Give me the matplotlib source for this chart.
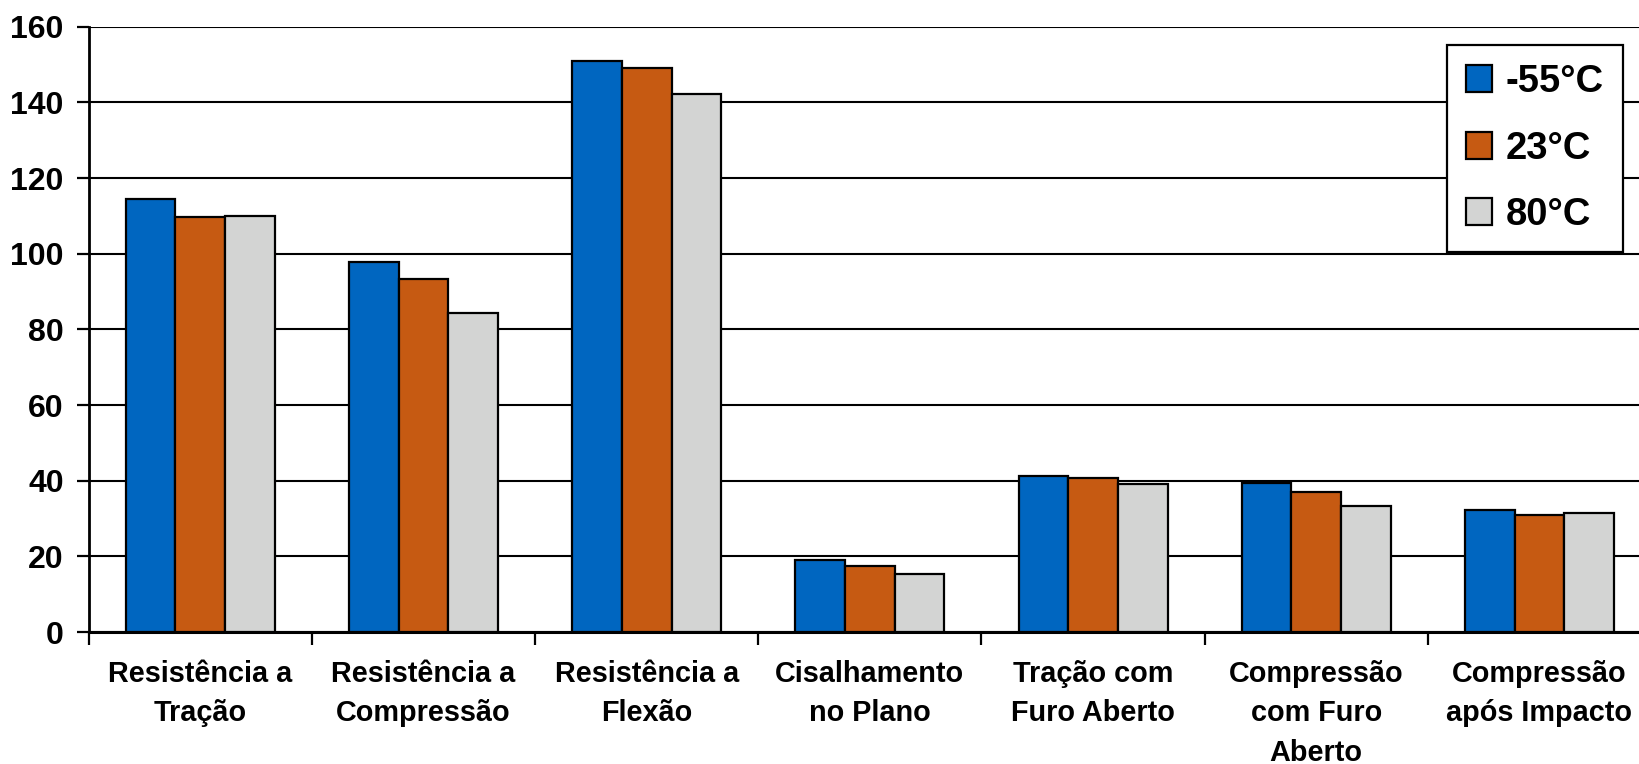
import numpy as np
import matplotlib.pyplot as plt

plt.rcParams['font.family'] = ['Liberation Sans', 'DejaVu Sans']
plt.rcParams['font.weight'] = 'bold'

categories = ['Resistência a\nTração', 'Resistência a\nCompressão', 'Resistência a\nFlexão',
              'Cisalhamento\nno Plano', 'Tração com\nFuro Aberto', 'Compressão\ncom Furo\nAberto',
              'Compressão\napós Impacto']
series_names = ['-55°C', '23°C', '80°C']
vals_m55 = [114.5, 97.9, 151.0, 19.1, 41.2, 39.3, 32.2]
vals_23 = [109.8, 93.2, 149.2, 17.5, 40.7, 36.9, 30.9]
vals_80 = [109.9, 84.4, 142.2, 15.3, 39.0, 33.3, 31.5]
yticks = [0, 20, 40, 60, 80, 100, 120, 140, 160]

colors = ['#0066C0', '#C65A12', '#D3D4D3']

fig = plt.figure(figsize=(16.4, 7.64), dpi=100)
ax = fig.add_axes([88.7 / 1640, 132 / 764, (1651 - 88.7) / 1640, (632 - 26.7) / 764])

x = np.arange(len(categories))
w = 0.2226
for i, (vals, name) in enumerate(zip([vals_m55, vals_23, vals_80], series_names)):
    ax.bar(x + (i - 1) * w, vals, width=w, color=colors[i], edgecolor='black',
           linewidth=1.6, label=name, zorder=3)

ax.set_xlim(-0.5, len(categories) - 0.5)
ax.set_ylim(0, 160)
ax.set_yticks(yticks)
ax.set_yticklabels([str(t) for t in yticks], fontsize=23, fontweight='bold')
ax.yaxis.grid(True, color='black', linewidth=1.5, zorder=0)
ax.set_axisbelow(True)

# category boundaries get the tick marks, labels sit in between
ax.set_xticks(np.arange(len(categories) + 1) - 0.5)
ax.set_xticklabels([])
ax.set_xticks(x, minor=True)
ax.set_xticklabels(categories, minor=True, fontsize=20.8, fontweight='bold', linespacing=1.52)
ax.tick_params(axis='x', which='major', length=9, width=1.6, direction='out')
ax.tick_params(axis='x', which='minor', length=0, pad=20)
ax.tick_params(axis='y', length=9, width=1.6, pad=9)

for s in ['top', 'right']:
    ax.spines[s].set_visible(False)
ax.spines['left'].set_linewidth(2)
ax.spines['bottom'].set_linewidth(2.2)

leg = ax.legend(loc='upper right', bbox_to_anchor=(1623 / 1640, 1 - 45 / 764),
                bbox_transform=fig.transFigure, borderaxespad=0, fancybox=False,
                edgecolor='black', framealpha=1, prop={'size': 27.5, 'weight': 'bold'},
                handlelength=0.7, handleheight=0.7, handletextpad=0.35,
                borderpad=0.5, labelspacing=0.8)
leg.get_frame().set_linewidth(1.6)

fig.savefig('out.png', dpi=100)
